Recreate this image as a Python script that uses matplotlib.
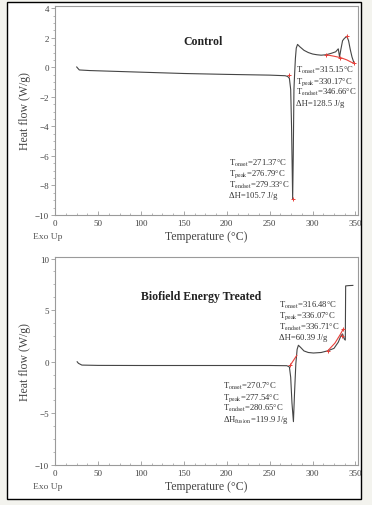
import matplotlib
matplotlib.use("Agg")
import matplotlib.pyplot as plt
from matplotlib.patches import Rectangle
from matplotlib.ticker import MultipleLocator, AutoMinorLocator
import matplotlib.transforms as mtransforms

plt.rcParams['font.family'] = ['Liberation Serif', 'DejaVu Serif']
plt.rcParams['mathtext.fontset'] = 'stix'

# ---- Control curve (temperature degC, heat flow W/g)
ctrl_t = [25, 26, 28, 40, 100, 150, 200, 250, 268, 271, 273, 274.5, 275.5,
          276.8, 277.5, 278.3, 279, 280, 281, 282.5, 285, 290, 295, 300, 305,
          310, 316, 322, 327, 330, 331.5, 333, 335, 337, 340, 342, 344, 346,
          348]
ctrl_q = [0.02, -0.05, -0.18, -0.22, -0.33, -0.42, -0.48, -0.53, -0.57,
          -0.62, -0.75, -1.5, -4.0, -8.9, -6.0, -1.5, -0.55, 0.6, 1.3, 1.55,
          1.4, 1.15, 1.0, 0.9, 0.85, 0.82, 0.85, 0.95, 1.05, 1.25, 0.7, 1.2,
          1.8, 1.95, 2.1, 1.8, 1.2, 0.7, 0.35]
ctrl_base_t = [316, 325, 333, 340, 345, 348]
ctrl_base_q = [0.85, 0.75, 0.65, 0.5, 0.35, 0.28]
ctrl_mark_t = [272, 276.8, 316, 332, 340, 348]
ctrl_mark_q = [-0.55, -8.9, 0.85, 0.65, 2.1, 0.3]

# ---- Biofield treated curve
bio_t = [25.5, 27, 31, 50, 100, 150, 200, 250, 270, 273, 274.5, 276,
         277.7, 279, 280.5, 282, 283.5, 286, 290, 295, 301, 310, 318, 325,
         330, 333, 335, 337, 338.2, 338.6, 342, 347]
bio_q = [0.0, -0.15, -0.32, -0.35, -0.36, -0.36, -0.36, -0.36, -0.38,
         -0.5, -1.5, -4.0, -5.8, -3.0, -0.2, 1.2, 1.6, 1.4, 1.05, 0.9, 0.85,
         0.9, 1.07, 1.3, 1.9, 2.5, 2.7, 2.2, 2.1, 7.35, 7.38, 7.4]
bio_base1_t = [273.9, 281.6]
bio_base1_q = [-0.35, 0.62]
bio_base2_t = [317.8, 326, 332, 336]
bio_base2_q = [1.07, 1.8, 2.6, 3.2]
bio_mark_t = [273.9, 317.8, 334, 336]
bio_mark_q = [-0.35, 1.07, 2.5, 3.2]

ctrl_low = [r"T$_{\mathrm{onset}}$=271.37°C", r"T$_{\mathrm{peak}}$=276.79°C",
            r"T$_{\mathrm{endset}}$=279.33°C", r"ΔH=105.7 J/g"]
ctrl_high = [r"T$_{\mathrm{onset}}$=315.15°C", r"T$_{\mathrm{peak}}$=330.17°C",
             r"T$_{\mathrm{endset}}$=346.66°C", r"ΔH=128.5 J/g"]
bio_low = [r"T$_{\mathrm{onset}}$=270.7°C", r"T$_{\mathrm{peak}}$=277.54°C",
           r"T$_{\mathrm{endset}}$=280.65°C",
           r"ΔH$_{\mathrm{fusion}}$=119.9 J/g"]
bio_high = [r"T$_{\mathrm{onset}}$=316.48°C", r"T$_{\mathrm{peak}}$=336.07°C",
            r"T$_{\mathrm{endset}}$=336.71°C", r"ΔH=60.39 J/g"]

W, H = 372, 506
fig = plt.figure(figsize=(W / 100, H / 100), dpi=100, facecolor="#f3f3ee")
fig.add_artist(Rectangle((7 / W, 1 - 500 / H), 354 / W, 497 / H,
                         transform=fig.transFigure, facecolor="white",
                         edgecolor="black", lw=1.0, zorder=-1))

GRAY = "#454545"
RED = "#e8403a"


def block(ax, x, y, lines):
    for i, s in enumerate(lines):
        tr = ax.transData + mtransforms.ScaledTranslation(
            0, -i * 11 / 100, fig.dpi_scale_trans)
        ax.text(x, y, s, transform=tr, fontsize=6.2, color="#333333",
                ha="left", va="center")


def style(ax, ylim, ystep):
    ax.set_xlim(0, 353)
    ax.set_ylim(*ylim)
    ax.xaxis.set_major_locator(MultipleLocator(50))
    ax.xaxis.set_minor_locator(AutoMinorLocator(4))
    ax.yaxis.set_major_locator(MultipleLocator(ystep))
    ax.yaxis.set_minor_locator(AutoMinorLocator(4))
    for sp in ax.spines.values():
        sp.set_color("#9a9a9a")
        sp.set_linewidth(0.8)
    ax.tick_params(axis="x", which="both", direction="in", colors="#9a9a9a",
                   labelcolor="#444444", labelsize=6.5, pad=3)
    ax.tick_params(axis="y", which="both", direction="out", colors="#9a9a9a",
                   labelcolor="#444444", labelsize=6.5, pad=1.5)
    ax.tick_params(which="major", length=3, width=0.6)
    ax.tick_params(which="minor", length=1.5, width=0.5)
    ax.set_ylabel("Heat flow (W/g)", fontsize=8.5, color="#444444",
                  labelpad=3)
    ax.set_xlabel("Temperature (°C)", fontsize=8.5, color="#444444",
                  labelpad=2)
    ax.text(-0.025, -0.1, "Exo Up", transform=ax.transAxes, fontsize=6.8,
            color="#555555", ha="center", va="center")


# ---- top panel
ax1 = fig.add_axes([55.3 / W, 1 - 216 / H, 302.7 / W, 209 / H])
style(ax1, (-10, 4.15), 2)
ax1.plot(ctrl_t, ctrl_q, color=GRAY, lw=0.8)
ax1.plot(ctrl_base_t, ctrl_base_q, color=RED, lw=0.8)
ax1.plot(ctrl_mark_t, ctrl_mark_q, "+", color=RED, ms=3, mew=0.7)
ax1.text(172, 1.78, "Control", fontsize=8.5, fontweight="bold",
         color="#222222", ha="center", va="center")
block(ax1, 203, -6.43, ctrl_low)
block(ax1, 280.5, -0.16, ctrl_high)

# ---- bottom panel
ax2 = fig.add_axes([55.3 / W, 1 - 466 / H, 302.7 / W, 208.5 / H])
style(ax2, (-10, 10.2), 5)
ax2.plot(bio_t, bio_q, color=GRAY, lw=0.8)
ax2.plot(bio_base1_t, bio_base1_q, color=RED, lw=0.8)
ax2.plot(bio_base2_t, bio_base2_q, color=RED, lw=0.8)
ax2.plot(bio_mark_t, bio_mark_q, "+", color=RED, ms=3, mew=0.7)
ax2.text(169.8, 6.4, "Biofield Energy Treated", fontsize=8.5,
         fontweight="bold", color="#222222", ha="center", va="center")
block(ax2, 195.3, -2.32, bio_low)
block(ax2, 261.4, 5.6, bio_high)

fig.savefig("out.png", dpi=100, facecolor=fig.get_facecolor())
